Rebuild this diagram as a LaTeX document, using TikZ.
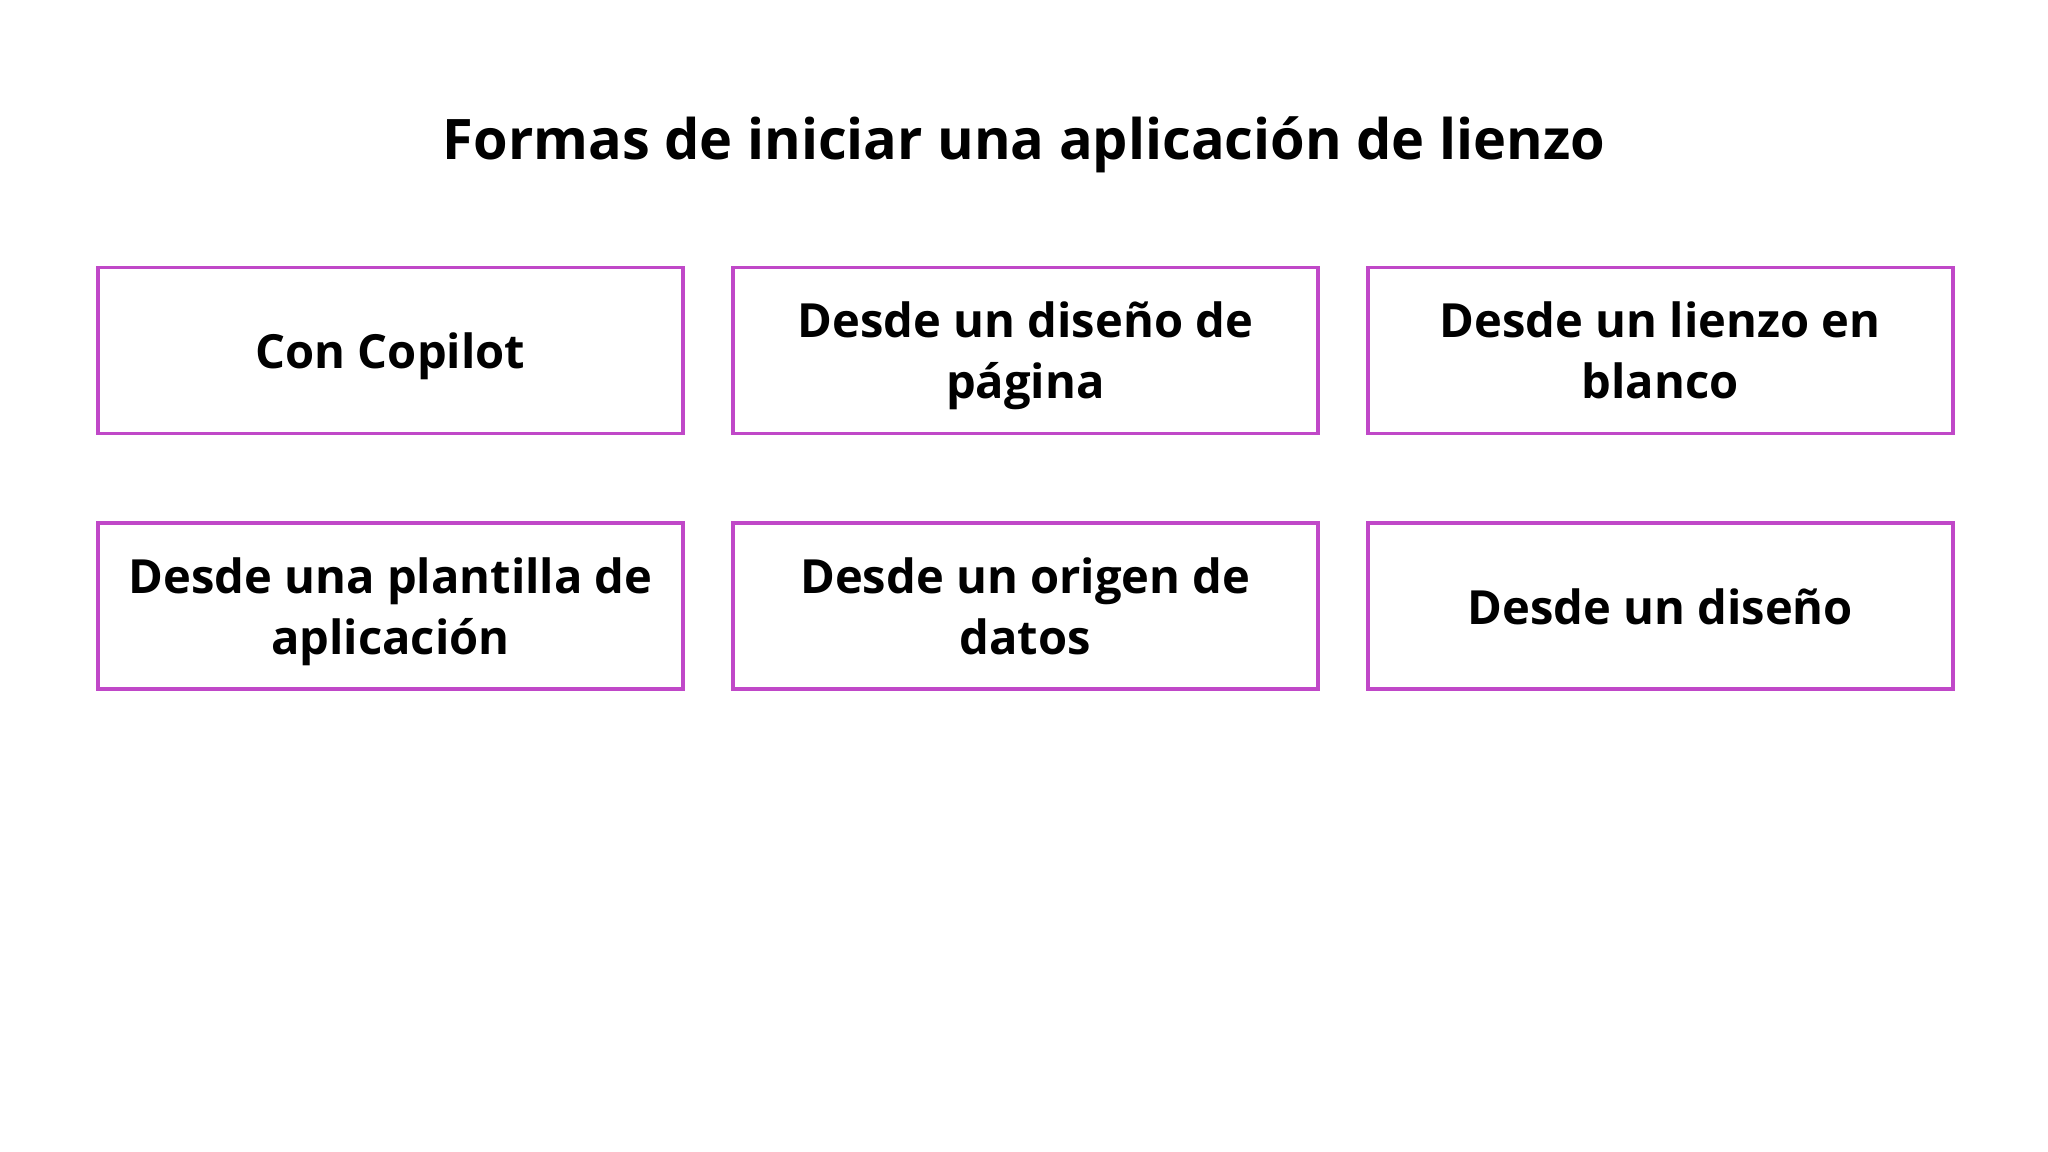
\documentclass[tikz,border=0pt]{standalone}
\usepackage{fontspec}
\setmainfont{Open Sans}
\usepackage{tikz}
\usetikzlibrary{positioning}
\usepackage{xcolor}
\definecolor{boxpink}{HTML}{C048C8}

\begin{document}
\begin{tikzpicture}[
    node distance=0.86cm and 0.46cm,
    way/.style={rectangle, draw=boxpink, line width=1.1pt, minimum width=5.85cm, minimum height=1.66cm, align=center, font=\fontsize{13.4}{17.4}\selectfont\bfseries, inner sep=0pt, text depth=0pt},
]
\useasboundingbox (0,0) rectangle (20.48,11.52);
\node[font=\fontsize{15.9}{19}\selectfont\bfseries] (title) at (10.24,10.07) {Formas de iniciar una aplicación de lienzo};
\node[way] (copilot) at (3.905,8.015) {Con Copilot};
\node[way, right=of copilot] (pagina) {Desde un diseño de\\página};
\node[way, right=of pagina] (blanco) {Desde un lienzo en\\blanco};
\node[way, below=of copilot] (plantilla) {Desde una plantilla de\\aplicación};
\node[way, below=of pagina] (datos) {Desde un origen de\\datos};
\node[way, below=of blanco] (diseno) {Desde un diseño};
\end{tikzpicture}
\end{document}
